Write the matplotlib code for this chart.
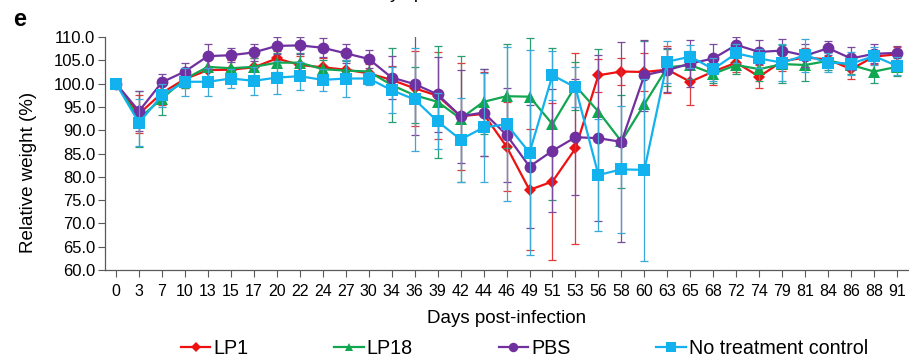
import matplotlib
matplotlib.use("Agg")
import matplotlib.pyplot as plt
from matplotlib.lines import Line2D
import numpy as np

plt.rcParams['font.family'] = ['Liberation Sans', 'DejaVu Sans']

days = [0, 3, 7, 10, 13, 15, 17, 20, 22, 24, 27, 30, 34, 36, 39, 42, 44, 46, 49, 51,
        53, 56, 58, 60, 63, 65, 68, 72, 74, 79, 81, 84, 86, 88, 91]

lp1 = [100, 93.5, 98.0, 101.0, 102.9, 103.0, 103.5, 105.4, 104.0, 103.5, 103.0, 102.2,
       100.8, 99.0, 97.4, 93.0, 93.5, 86.5, 77.2, 79.0, 86.1, 101.8, 102.6, 102.5, 103.0,
       100.4, 102.6, 104.5, 101.5, 104.8, 105.6, 105.2, 103.1, 105.8, 106.3]
lp18 = [100, 92.5, 96.8, 101.0, 103.6, 103.3, 103.6, 104.5, 104.5, 103.1, 102.8, 102.6,
        99.7, 97.5, 96.1, 92.5, 96.1, 97.3, 97.2, 91.3, 99.5, 94.0, 87.6, 95.6, 103.5,
        104.0, 102.1, 104.0, 103.1, 104.2, 104.0, 104.9, 104.0, 102.6, 103.6]
pbs = [100, 94.1, 100.3, 102.6, 105.9, 106.1, 106.7, 108.1, 108.2, 107.7, 106.5, 105.3,
       101.3, 99.9, 97.7, 93.0, 93.8, 89.0, 82.2, 85.6, 88.5, 88.3, 87.5, 101.8, 102.9,
       104.3, 105.4, 108.3, 106.8, 107.1, 106.0, 107.6, 105.4, 106.4, 106.6]
ctrl = [100, 91.6, 97.5, 100.4, 100.4, 101.1, 100.6, 101.3, 101.6, 100.8, 101.1, 101.1,
        98.6, 96.6, 91.9, 88.0, 90.6, 91.3, 85.2, 101.8, 99.2, 80.4, 81.6, 81.5, 104.7,
        105.8, 103.1, 106.5, 105.4, 104.5, 106.1, 104.5, 104.3, 105.9, 103.8]

lp1_err = [0, 4, 2.5, 2, 2.5, 2, 2, 1.5, 2, 2, 2, 2, 3, 8, 9.3, 11.5, 9, 9.5, 13, 16.8,
           20.4, 3.5, 3, 4, 5, 5, 3, 2, 2.5, 2, 2, 1.5, 2, 1.5, 1.5]
lp18_err = [0, 6, 3.5, 2, 3, 2, 2, 2, 2, 2, 2, 2, 8, 6, 12, 13.5, 7, 11.2, 12.5, 16.3,
            5.2, 13.4, 10, 13.5, 4, 3, 2, 2, 2.5, 4, 3.5, 2, 2, 2.5, 2]
pbs_err = [0, 4.3, 1.8, 1.8, 2.7, 1.5, 1.8, 1.8, 1.8, 2, 2, 2, 4.6, 11, 8, 10, 9.4, 10,
           13.2, 13.2, 12.4, 17.8, 21.5, 7.6, 4.8, 5, 3, 1.6, 2.5, 2.5, 2.5, 1.5, 2.5, 2, 1.5]
ctrl_err = [0, 5, 2.5, 3, 3, 2, 3, 3.5, 3, 2.3, 4, 1.5, 5, 11, 6, 9, 11.6, 16.5, 22, 5.3,
            4.3, 12, 13.6, 19.5, 4.5, 2.5, 2.5, 2, 2, 4, 3.5, 2, 2.5, 2, 2]

series = [
    ("LP1", lp1, lp1_err, "#EE1111", "#E03A3A", "D", 6.5),
    ("LP18", lp18, lp18_err, "#11A650", "#2A9E70", "^", 8),
    ("PBS", pbs, pbs_err, "#7030A0", "#7A4A9E", "o", 8.5),
    ("No treatment control", ctrl, ctrl_err, "#12B2EE", "#3AA8D8", "s", 8.5),
]

fig = plt.figure(figsize=(9.09, 3.63), dpi=100)
ax = fig.add_axes([0.1155, 0.256, 0.884, 0.642])

x = np.arange(len(days))
handles = []
for name, vals, err, col, ecol, mk, ms in series:
    e = np.array(err, dtype=float)
    m = e > 0
    ax.errorbar(x[m], np.array(vals)[m], yerr=e[m], fmt='none', ecolor=ecol,
                elinewidth=0.9, capsize=3, capthick=0.9)
    ax.plot(x, vals, color=col, marker=mk, markersize=ms, linewidth=1.6,
            markeredgewidth=0)
    handles.append(Line2D([], [], color=col, marker=mk, markersize=ms * 0.8,
                          linewidth=1.6, markeredgewidth=0, label=name))

ax.set_xlim(-0.48, len(days) - 0.5)
ax.set_ylim(60, 110)
yt = np.arange(60, 110.1, 5)
ax.set_yticks(yt)
ax.set_yticklabels([f"{v:.1f}" for v in yt])
ax.set_xticks(x)
ax.set_xticklabels([str(d) for d in days])
ax.tick_params(axis='both', length=5, width=0.8, color='#595959')
ax.tick_params(axis='y', labelsize=12, pad=2)
ax.tick_params(axis='x', labelsize=11.5, pad=5)
for s in ['top', 'right']:
    ax.spines[s].set_visible(False)
for s in ['left', 'bottom']:
    ax.spines[s].set_color('#595959')
    ax.spines[s].set_linewidth(0.9)

ax.set_ylabel("Relative weight (%)", fontsize=13.5, labelpad=5)
ax.yaxis.set_label_coords(-0.085, 0.42)
ax.set_xlabel("Days post-infection", fontsize=13.5, labelpad=8)

fig.legend(handles=handles, loc='center', bbox_to_anchor=(0.577, 0.039), ncol=4,
           frameon=False, fontsize=14.2, handlelength=1.5, handletextpad=0.15,
           columnspacing=4.35)

fig.text(0.49, 1 + 2.5 / 363, "Days post-infection", fontsize=13.5, ha='center',
         va='baseline')
fig.text(0.0143, 0.915, "e", fontsize=17, fontweight='bold', ha='left', va='bottom')

fig.savefig("out.png", dpi=100)
